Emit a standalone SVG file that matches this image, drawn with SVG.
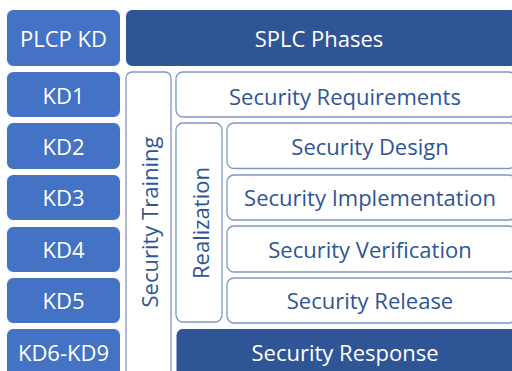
<svg xmlns="http://www.w3.org/2000/svg" width="512" height="371" viewBox="0 0 512 371">
<style>
.kd{fill:#4472C4;stroke:#FFFFFF;stroke-width:1}
.dk{fill:#2F5597;stroke:#FFFFFF;stroke-width:1}
.wb{fill:#FFFFFF;stroke:#7F96C8;stroke-width:1.3}
.tw{font-family:"Open Sans","Noto Sans",sans-serif;font-size:22px;fill:#FFFFFF;text-anchor:middle;dominant-baseline:central}
.tb{font-family:"Open Sans","Noto Sans",sans-serif;font-size:22px;fill:#2F5597;text-anchor:middle;dominant-baseline:central}
</style>
<rect width="512" height="371" fill="#FFFFFF"/>
<g id="plcp"><rect class="kd" x="6.5" y="9.5" width="114" height="57" rx="7"/><text class="tw" x="63.5" y="38">PLCP KD</text></g>
<g id="splc"><rect class="dk" x="125.5" y="9.5" width="392" height="57" rx="7"/><text class="tw" x="319" y="38">SPLC Phases</text></g>
<g id="kd1"><rect class="kd" x="6.5" y="71.5" width="114" height="46" rx="7"/><text class="tw" x="63.5" y="95">KD1</text></g>
<g id="kd2"><rect class="kd" x="6.5" y="122.5" width="114" height="47" rx="7"/><text class="tw" x="63.5" y="146">KD2</text></g>
<g id="kd3"><rect class="kd" x="6.5" y="174.5" width="114" height="46" rx="7"/><text class="tw" x="63.5" y="197">KD3</text></g>
<g id="kd4"><rect class="kd" x="6.5" y="226.5" width="114" height="46" rx="7"/><text class="tw" x="63.5" y="249">KD4</text></g>
<g id="kd5"><rect class="kd" x="6.5" y="277.5" width="114" height="46" rx="7"/><text class="tw" x="63.5" y="300">KD5</text></g>
<g id="kd6"><rect class="kd" x="6.5" y="328.5" width="114" height="60" rx="7"/><text class="tw" x="63.5" y="352">KD6-KD9</text></g>
<g id="training"><rect class="wb" x="126" y="72" width="45" height="315" rx="6"/><text class="tb" transform="translate(148.5,222) rotate(-90)">Security Training</text></g>
<g id="requirements"><rect class="wb" x="176" y="72" width="340" height="45" rx="7"/><text class="tb" x="345" y="96">Security Requirements</text></g>
<g id="realization"><rect class="wb" x="176" y="123" width="46" height="199" rx="7"/><text class="tb" transform="translate(199.5,223) rotate(-90)">Realization</text></g>
<g id="design"><rect class="wb" x="227" y="123" width="289" height="45.5" rx="7"/><text class="tb" x="370" y="146">Security Design</text></g>
<g id="implementation"><rect class="wb" x="227" y="175" width="289" height="45" rx="7"/><text class="tb" x="370" y="197">Security Implementation</text></g>
<g id="verification"><rect class="wb" x="227" y="226" width="289" height="46" rx="7"/><text class="tb" x="370" y="249">Security Verification</text></g>
<g id="release"><rect class="wb" x="227" y="278" width="289" height="45" rx="7"/><text class="tb" x="370" y="300">Security Release</text></g>
<g id="response"><rect class="dk" x="176" y="328.5" width="345" height="60" rx="7"/><text class="tb" style="fill:#FFFFFF" x="345" y="352">Security Response</text></g>
<g id="connectors"></g>
</svg>
